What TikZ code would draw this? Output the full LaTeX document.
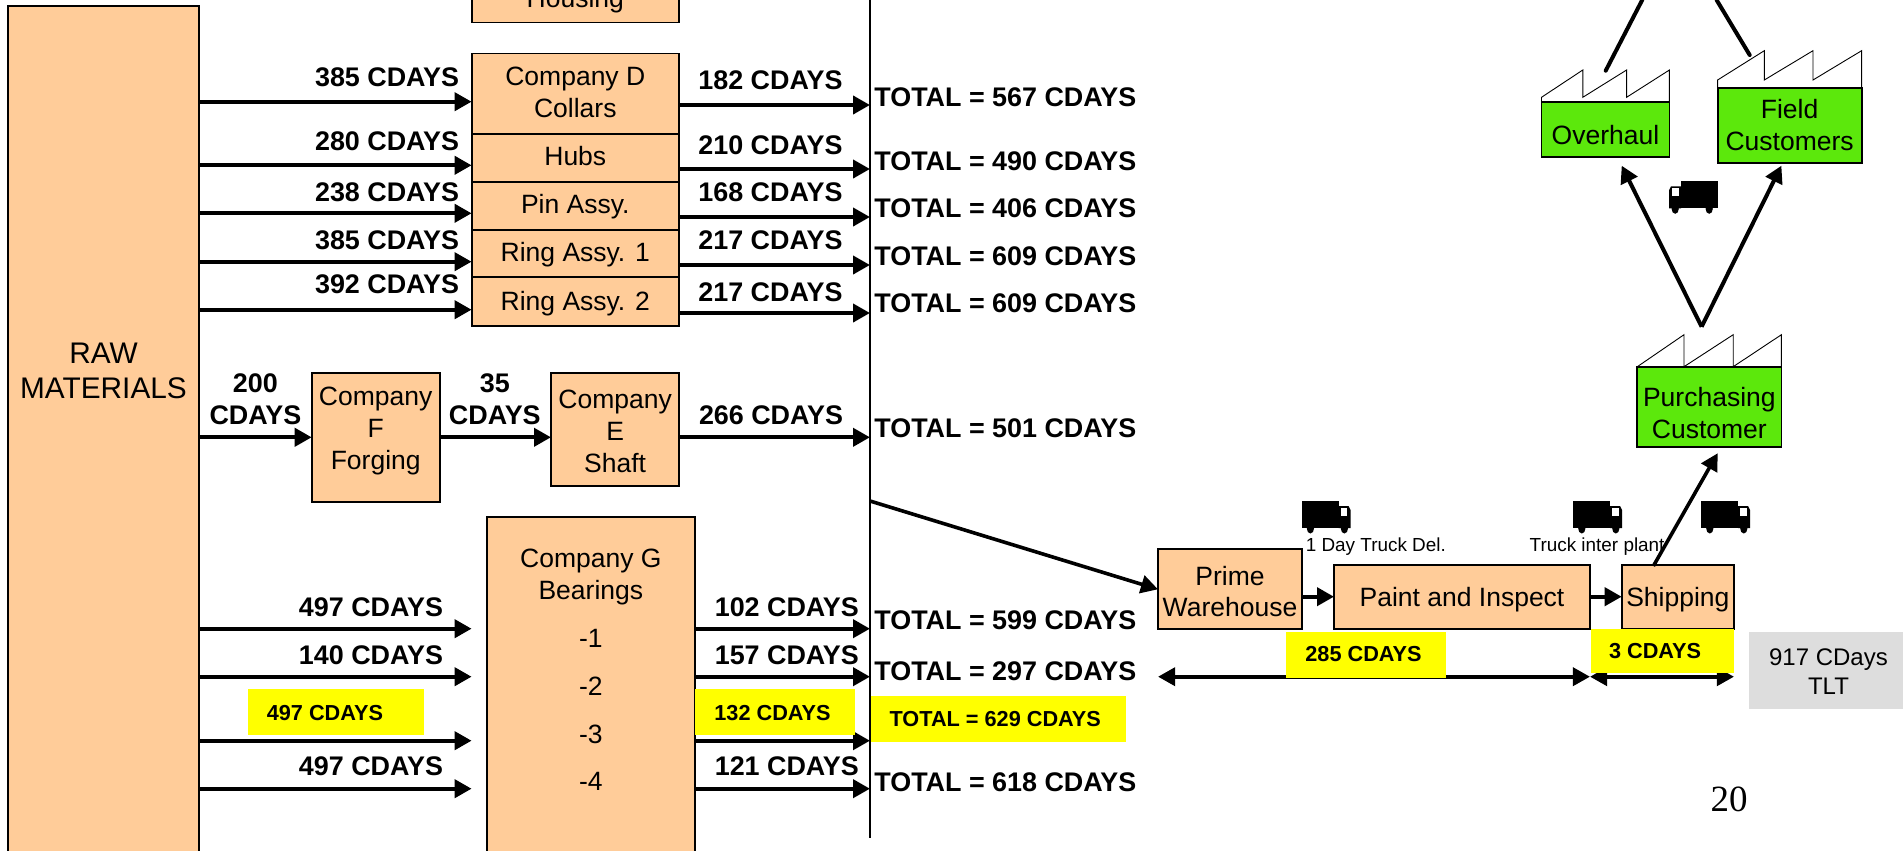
\documentclass[tikz,border=0pt]{standalone}
\usepackage{fontspec}
\setmainfont{Liberation Sans}
\newfontfamily\timesf{Liberation Serif}
\usetikzlibrary{arrows.meta,calc}
\definecolor{boxorange}{HTML}{FFCC99}
\definecolor{boxgreen}{HTML}{5CE80C}
\definecolor{hiyellow}{HTML}{FFFF00}
\definecolor{tltgray}{HTML}{DDDDDD}
\tikzset{
  reg/.style={font=\fontsize{13.25}{15.85}\selectfont},
  bld/.style={font=\fontsize{13.45}{15.85}\selectfont\bfseries},
  ybld/.style={font=\fontsize{10.85}{12.8}\selectfont\bfseries},
  tiny9/.style={font=\fontsize{9.45}{11}\selectfont},
  basebox/.style={draw=black,line width=0.9pt,inner sep=0pt,outer sep=0pt},
  obox/.style={basebox,fill=boxorange,reg},
  gbox/.style={basebox,fill=boxgreen,reg},
  ybox/.style={fill=hiyellow,draw=none,inner sep=0pt,outer sep=0pt,ybld},
  tbox/.style={fill=tltgray,draw=none,inner sep=0pt,outer sep=0pt,font=\fontsize{12}{14.5}\selectfont},
  arr/.style={line width=2pt,-{Triangle[length=8.5pt,width=9pt]}},
  arrd/.style={line width=2pt,{Triangle[length=8.6pt,width=9pt]}-{Triangle[length=8.6pt,width=9pt]}},
  plainl/.style={line width=2pt,line cap=round},
  roof/.style={line width=0.45pt,draw=black,line join=miter},
  lblr/.style={bld,anchor=base east,inner sep=0pt},
  lbll/.style={bld,anchor=base west,inner sep=0pt},
  lblc/.style={bld,anchor=base,inner sep=0pt},
}
% name,x1,y1,x2,y2,style,first baseline,text
\newcommand\bx[8]{%
  \pgfmathsetmacro\bw{(#4-#2)*0.5}\pgfmathsetmacro\bh{(#5-#3)*0.5}%
  \pgfmathsetmacro\bcx{(#2+#4)/2}\pgfmathsetmacro\bcy{(#3+#5)/2}\pgfmathsetmacro\bd{(\bcy-#7)*0.5}%
  \node[#6,minimum width=\bw pt,minimum height=\bh pt] (#1) at (\bcx,\bcy)
    {\raisebox{\bd pt}[0pt][0pt]{\begin{tabular}[t]{@{}c@{}}#8\end{tabular}}};}
% name,x1,y1,x2,y2,text x,baseline,text : highlighted box, text set from the left
\newcommand\ybx[8]{%
  \pgfmathsetmacro\bw{(#4-#2)*0.5}\pgfmathsetmacro\bh{(#5-#3)*0.5}%
  \pgfmathsetmacro\bcx{(#2+#4)/2}\pgfmathsetmacro\bcy{(#3+#5)/2}\pgfmathsetmacro\bd{(\bcy-#7)*0.5}%
  \pgfmathsetmacro\bo{(#6-#2)*0.5}%
  \node[ybox,minimum width=\bw pt,minimum height=\bh pt] (#1) at (\bcx,\bcy)
    {\raisebox{\bd pt}[0pt][0pt]{\makebox[\bw pt][l]{\hspace{\bo pt}#8}}};}
\newcommand\conn[3]{\draw[arr] (#1.east |- 0,#3) -- (#2.west |- 0,#3);}
\newcommand\connv[2]{\draw[arr] (#1.east |- 0,#2) -- (vt |- 0,#2);}
\newcommand\conng[1]{\draw[arr] (raw.east |- 0,#1) -- (gin |- 0,#1);}
% x,y of top-left (or top-right when mirrored), xscale
\newcommand\truckshape[3]{%
  \begin{scope}[shift={(#1,#2)},xscale=#3]
    \fill[black] (0,0) rectangle (37,27);
    \fill[black] (37,5) -- (47,5) -- (49,9) -- (49,27) -- (37,27) -- cycle;
    \fill[white] (39.4,6.8) rectangle (45.8,15);
    \fill[black] (8.8,27.5) ellipse (3.6 and 5);
    \fill[black] (42.8,27.5) ellipse (3.6 and 5);
  \end{scope}}
\begin{document}
\begin{tikzpicture}[x=0.5pt,y=-0.5pt]
\useasboundingbox (0,0) rectangle (1903,851);
\clip (0,0) rectangle (1903,851);
\coordinate (vt) at (870,0);
\coordinate (vb) at (870,837.5);
\coordinate (gin) at (471.6,0);
\coordinate (primefrom) at (870,501);

% double arrows lie under the yellow labels
\bx{prime}{1158}{549.3}{1302}{629.3}{obox}{585}{Prime\\Warehouse}
\bx{paint}{1334}{565}{1590}{629.3}{obox}{606.7}{Paint and Inspect}
\bx{ship}{1621.7}{565}{1734}{629.3}{obox}{606.7}{Shipping}
\draw[arrd] (prime.west |- 0,676.7) -- (paint.east |- 0,676.7);
\draw[arrd] (paint.east |- 0,676.7) -- (ship.east |- 0,676.7);
\conn{prime}{paint}{596.7}
\conn{paint}{ship}{596.7}

% left column
\bx{raw}{8}{6}{199}{900}{obox,font=\fontsize{14.9}{17.6}\selectfont}{363.3}{RAW\\MATERIALS}
\bx{housing}{471.6}{-40}{679}{22.5}{obox}{8}{Housing}
\bx{compd}{471.6}{53.5}{679}{134}{obox}{86}{Company D\\Collars}
\bx{hubs}{471.6}{134}{679}{182}{obox}{165.5}{Hubs}
\bx{pin}{471.6}{182}{679}{229.7}{obox}{213.5}{Pin Assy.}
\bx{ringa}{471.6}{229.7}{679}{277.3}{obox}{261.7}{Ring Assy. 1}
\bx{ringb}{471.6}{277.3}{679}{325.7}{obox}{310}{Ring Assy. 2}
\bx{compf}{311.7}{373.3}{439.7}{501.7}{obox}{405.6}{Company\\F\\Forging}
\bx{compe}{551}{373.3}{679.3}{485.7}{obox}{408.6}{Company\\E\\Shaft}
\bx{compg}{486.7}{516.7}{695}{900}{obox}{567.7}{Company G\\Bearings\\[8.35pt]-1\\[8.15pt]-2\\[8.15pt]-3\\[7.65pt]-4}

% vertical line
\draw[line width=0.9pt] (vt) -- (vb);

% arrows
\conn{raw}{compd}{101.7}
\conn{raw}{hubs}{165.3}
\conn{raw}{pin}{213.3}
\conn{raw}{ringa}{261.7}
\conn{raw}{ringb}{309.7}
\connv{compd}{105}
\connv{hubs}{169}
\connv{pin}{217}
\connv{ringa}{265}
\connv{ringb}{313}
\conn{raw}{compf}{437.3}
\conn{compf}{compe}{437.3}
\connv{compe}{437.3}
\conng{628.7}
\conng{676.7}
\conng{740.7}
\conng{788.7}
\connv{compg}{628.7}
\connv{compg}{676.7}
\connv{compg}{740.7}
\connv{compg}{788.7}
\draw[arr,line width=1.8pt] (primefrom) -- (prime.west);

% labels upper left
\node[lblr] (la) at (459.5,86) {385 CDAYS};
\node[lblr] (lb) at (459.5,150) {280 CDAYS};
\node[lblr] (lc) at (459.5,201) {238 CDAYS};
\node[lblr] (ld) at (459.5,249) {385 CDAYS};
\node[lblr] (le) at (459.5,293.7) {392 CDAYS};
\node[lbll] (ra) at (698,90) {182 CDAYS};
\node[lbll] (rb) at (698,154) {210 CDAYS};
\node[lbll] (rc) at (698,201) {168 CDAYS};
\node[lbll] (rd) at (698,249) {217 CDAYS};
\node[lbll] (re) at (698,301) {217 CDAYS};
\node[lblc] (lf) at (255.4,392.7) {\begin{tabular}[t]{@{}c@{}}200\\CDAYS\end{tabular}};
\node[lblc] (lg) at (494.8,392.7) {\begin{tabular}[t]{@{}c@{}}35\\CDAYS\end{tabular}};
\node[lbll] (rf) at (698.6,424.3) {266 CDAYS};
\node[lblr] (lh) at (443.4,616.7) {497 CDAYS};
\node[lblr] (li) at (443.4,664.7) {140 CDAYS};
\node[lblr] (lj) at (443.4,775.3) {497 CDAYS};
\node[lbll] (rh) at (714.4,616.7) {102 CDAYS};
\node[lbll] (ri) at (714.4,664.7) {157 CDAYS};
\node[lbll] (rj) at (714.4,775.3) {121 CDAYS};
\ybx{yl}{248}{689}{424}{735}{266.8}{720}{497 CDAYS}
\ybx{yr}{695}{689}{855}{735}{714.4}{720}{132 CDAYS}
\ybx{yt}{871}{696}{1126}{741.7}{889.6}{726}{TOTAL = 629 CDAYS}
\node[lbll] (ta) at (874,106) {TOTAL = 567 CDAYS};
\node[lbll] (tb) at (874,170.5) {TOTAL = 490 CDAYS};
\node[lbll] (tc) at (874,217) {TOTAL = 406 CDAYS};
\node[lbll] (td) at (874,265.2) {TOTAL = 609 CDAYS};
\node[lbll] (te) at (874,312.6) {TOTAL = 609 CDAYS};
\node[lbll] (tf) at (874,437.5) {TOTAL = 501 CDAYS};
\node[lbll] (tg) at (874,629.5) {TOTAL = 599 CDAYS};
\node[lbll] (th) at (874,680.6) {TOTAL = 297 CDAYS};
\node[lbll] (ti) at (874,791.5) {TOTAL = 618 CDAYS};

% bottom right
\ybx{y285}{1286}{632.3}{1446}{678}{1305.4}{661.7}{285 CDAYS}
\ybx{y3}{1590.6}{629.3}{1734}{673.3}{1609}{658.7}{3 CDAYS}
\bx{tlt}{1749}{632.3}{1903}{708.7}{tbox}{665}{\hspace*{2.5pt}917 CDays\\\hspace*{2.5pt}TLT}
\node[tiny9,anchor=base west,inner sep=0pt] (dela) at (1305.4,551) {1 Day Truck Del.};
\node[tiny9,anchor=base west,inner sep=0pt] (delb) at (1529.3,551) {Truck inter plant};
\node[anchor=base west,inner sep=0pt,font=\fontsize{18.5}{22}\selectfont\timesf] (pg) at (1710.3,811.7) {20};

% factories
\bx{over}{1541.5}{101.7}{1669.4}{156.7}{gbox}{144.3}{Overhaul}
\bx{field}{1717.6}{88.3}{1861.6}{162.7}{gbox}{118.5}{Field\\Customers}
\bx{purch}{1637.3}{366.7}{1781.4}{446.7}{gbox}{406.7}{Purchasing\\Customer}
\draw[roof] (over.north west) -- (1541.5,97.3) -- (1582.8,70) -- (1582.8,97.3) -- (1626.6,70) -- (1626.6,97.3) -- (1669.4,70) -- (over.north east);
\draw[roof] (field.north west) -- (1717.6,80) -- (1764.3,50.7) -- (1764.3,80) -- (1813,50.7) -- (1813,80) -- (1861.6,50.7) -- (field.north east);
\draw[roof] (purch.north west) -- (1684,334.7) -- (1684,366.7) -- (1733.2,334.7) -- (1733.2,366.7) -- (1781.4,334.7) -- (purch.north east);

\coordinate (apex) at (1701.6,326.7);
\coordinate (ovin) at (1621.7,165.7);
\coordinate (fiin) at (1781.4,165.7);
\coordinate (ovtop) at (1642.2,0);
\coordinate (ovbot) at (1605.7,70.7);
\coordinate (fitop) at (1716.6,0);
\coordinate (fibot) at (1749.7,55);
\coordinate (shipout) at (1653.4,566);
\coordinate (purin) at (1717.6,453.3);
\draw[arr] (apex) -- (ovin);
\draw[arr] (apex) -- (fiin);
\draw[plainl] (ovtop) -- (ovbot);
\draw[plainl] (fitop) -- (fibot);
\draw[arr,line width=1.8pt] (shipout) -- (purin);

% trucks
\truckshape{1718}{181.3}{-1}
\truckshape{1301.6}{501}{1}
\truckshape{1573}{501}{1}
\truckshape{1701}{501}{1}
\end{tikzpicture}
\end{document}
